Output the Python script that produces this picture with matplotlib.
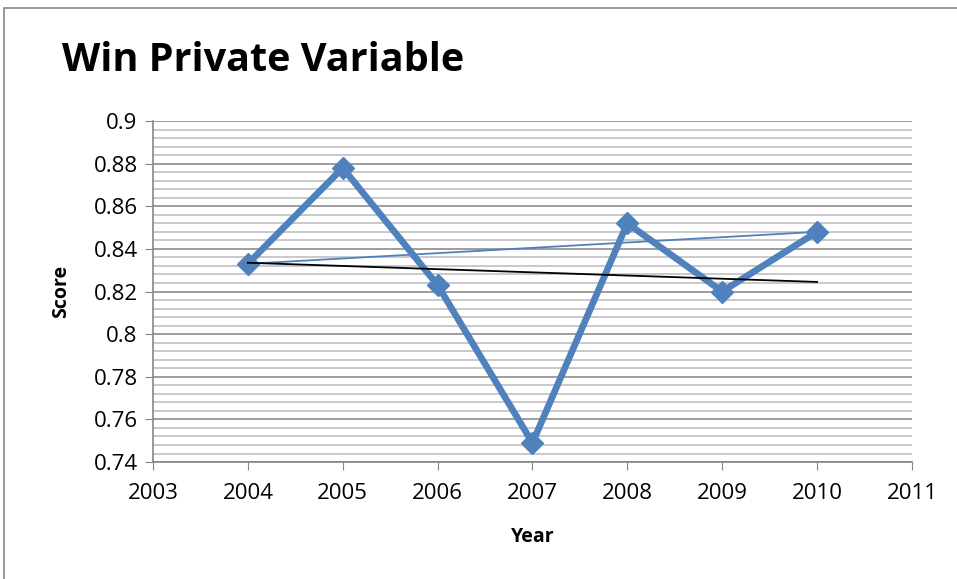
import numpy as np
import matplotlib.pyplot as plt
from matplotlib.ticker import MultipleLocator
from matplotlib.patches import Rectangle

years = [2004, 2005, 2006, 2007, 2008, 2009, 2010]
scores = [0.833, 0.878, 0.823, 0.749, 0.852, 0.820, 0.848]

plt.rcParams['font.family'] = ['Open Sans', 'DejaVu Sans']

fig = plt.figure(figsize=(9.57, 5.79), dpi=100)
ax = fig.add_axes([0.1599, 0.202, 0.793, 0.589])

blue = '#4F81BD'
ax.plot(years, scores, color=blue, lw=4.8, marker='D', ms=11, zorder=3)

# thin line from first to last point
ax.plot([years[0], years[-1]], [scores[0], scores[-1]], color=blue, lw=1.3, zorder=4)

# linear trendline
coef = np.polyfit(years, scores, 1)
xs = np.array([years[0], years[-1]])
ax.plot(xs, np.polyval(coef, xs), color='black', lw=1.3, zorder=4)

ax.set_xlim(2003, 2011)
ax.set_ylim(0.74, 0.9)
ax.xaxis.set_major_locator(MultipleLocator(1))
ax.yaxis.set_major_locator(MultipleLocator(0.02))
ax.yaxis.set_minor_locator(MultipleLocator(0.004))
ax.set_yticklabels([('%.2f' % v).rstrip('0').rstrip('.') for v in ax.get_yticks()])
ax.grid(which='major', axis='y', color='#8c8c8c', lw=1.2)
ax.grid(which='minor', axis='y', color='#c0c0c0', lw=1.2)
ax.set_axisbelow(True)
ax.tick_params(which='minor', length=0)
ax.tick_params(which='major', length=6, color='#868686', labelsize=16)
ax.tick_params(axis='x', pad=9)
ax.tick_params(axis='y', pad=5)
for s in ['top', 'right']:
    ax.spines[s].set_visible(False)
for s in ['left', 'bottom']:
    ax.spines[s].set_color('#868686')
    ax.spines[s].set_linewidth(1.2)

ax.set_xlabel('Year', fontsize=14, fontweight='bold', labelpad=17)
ax.set_ylabel('Score', fontsize=14, fontweight='bold', labelpad=16)

fig.text(0.065, 0.896, 'Win Private Variable', fontsize=28.5, fontweight='bold', va='center')

fig.patches.append(Rectangle((0.004, -0.1), 1.5, 1.086, transform=fig.transFigure,
                             fill=False, edgecolor='#868686', lw=1.2))

fig.savefig('out.png', dpi=100)
